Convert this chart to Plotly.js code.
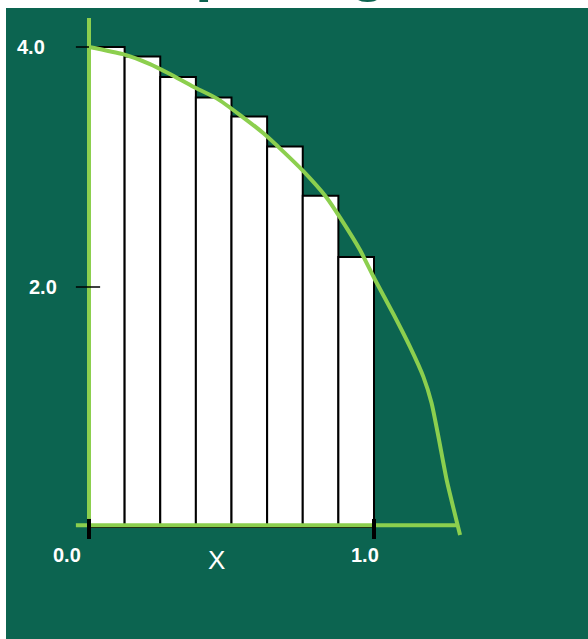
<!DOCTYPE html>
<html>
<head>
<meta charset="utf-8">
<script src="https://cdn.plot.ly/plotly-3.0.1.min.js"></script>
<style>
html,body{margin:0;padding:0;background:#ffffff;}
#chart{width:588px;height:639px;}
</style>
</head>
<body>
<div id="chart"></div>
<script>
// ---- data ----
const barLeft = [0.0, 0.125, 0.25, 0.375, 0.5, 0.625, 0.75, 0.875];
const barHeights = [4.0, 3.92, 3.75, 3.58, 3.42, 3.17, 2.76, 2.25];
const barWidth = 0.125;

const curveX = [0.0, 0.119, 0.214, 0.284, 0.366, 0.448, 0.530, 0.612, 0.682, 0.752, 0.834, 0.881, 0.951, 1.004, 1.068, 1.126, 1.173, 1.202, 1.226, 1.255, 1.302];
const curveY = [4.0, 3.94, 3.858, 3.775, 3.669, 3.572, 3.433, 3.281, 3.128, 2.965, 2.744, 2.578, 2.308, 2.058, 1.775, 1.503, 1.253, 1.033, 0.753, 0.392, -0.067];

const yTickVals = [4.0, 2.0];
const yTickText = ['4.0', '2.0'];
const xTickVals = [0.0, 1.0];
const xTickText = ['0.0', '1.0'];
const xTitle = 'X';
const chartTitle = 'Computing \u03c0';

// ---- style ----
const BG = '#0c6450';
const LIME = '#8ccf4e';
const W = 588, H = 639;
// pixel scale: 285 px per x unit, x=0 at 89px; 120 px per y unit, y=0 at 527px
const pxX = 285, x0px = 89, pxY = 120, y0px = 527;
const xr = [-x0px / pxX, (W - x0px) / pxX];
const yr = [(y0px - H) / pxY, y0px / pxY];

const barX = barLeft.map(v => v + barWidth / 2);

const traces = [
  {
    type: 'bar', x: barX, y: barHeights, width: barWidth,
    marker: {color: '#ffffff', line: {color: '#000000', width: 2}},
    hoverinfo: 'skip', showlegend: false
  },
  {
    type: 'scatter', mode: 'lines', x: curveX, y: curveY,
    line: {color: LIME, width: 4, shape: 'spline', smoothing: 0.5},
    hoverinfo: 'skip', showlegend: false
  }
];

const shapes = [
  {type: 'rect', xref: 'paper', yref: 'paper', x0: 6 / W, x1: 1, y0: 0, y1: 1 - 8 / H,
   fillcolor: BG, line: {width: 0}, layer: 'below'},
  // green axis lines
  {type: 'line', xref: 'x', yref: 'y', x0: 0, x1: 0, y0: 0.015, y1: (y0px - 18) / pxY,
   line: {color: LIME, width: 4}, layer: 'above'},
  {type: 'line', xref: 'x', yref: 'y', x0: -0.046, x1: 1.295, y0: 0.015, y1: 0.015,
   line: {color: LIME, width: 4}, layer: 'above'}
];
// y ticks
yTickVals.forEach((v, i) => {
  shapes.push({type: 'line', xref: 'x', yref: 'y', x0: -0.046, x1: i === 0 ? 0 : 0.039, y0: v, y1: v,
    line: {color: '#000000', width: 1.5}, layer: 'above'});
});
// x ticks
xTickVals.forEach(v => {
  shapes.push({type: 'line', xref: 'x', yref: 'y', x0: v, x1: v, y0: 0.067, y1: -0.1,
    line: {color: '#000000', width: 4}, layer: 'above'});
});

const labFont = {family: 'Liberation Sans, Arial, sans-serif', size: 20, color: '#ffffff', weight: 'bold'};
const yLabOffsets = [-0.205, -0.163];
const annotations = [];
yTickVals.forEach((v, i) => {
  annotations.push({x: yLabOffsets[i], y: v, xref: 'x', yref: 'y', text: '<b>' + yTickText[i] + '</b>',
    showarrow: false, font: labFont, xanchor: 'center', yanchor: 'middle'});
});
const xLabShift = [-0.077, -0.032];
xTickVals.forEach((v, i) => {
  annotations.push({x: v + xLabShift[i], y: -0.233, xref: 'x', yref: 'y', text: '<b>' + xTickText[i] + '</b>',
    showarrow: false, font: labFont, xanchor: 'center', yanchor: 'middle'});
});
annotations.push({x: 0.449, y: -0.275, xref: 'x', yref: 'y', text: xTitle, showarrow: false,
  font: {family: 'Liberation Sans, Arial, sans-serif', size: 26, color: '#ffffff'},
  xanchor: 'center', yanchor: 'middle'});
annotations.push({x: 53 / W, y: 1 - 4 / H, xref: 'paper', yref: 'paper', text: '<b>' + chartTitle + '</b>',
  showarrow: false, font: {family: 'Liberation Sans, Arial, sans-serif', size: 63, color: BG},
  xanchor: 'left', yanchor: 'bottom'});

const layout = {
  width: W, height: H,
  margin: {l: 0, r: 0, t: 0, b: 0, pad: 0},
  paper_bgcolor: '#ffffff', plot_bgcolor: 'rgba(0,0,0,0)',
  xaxis: {range: xr, visible: false, fixedrange: true, domain: [0, 1]},
  yaxis: {range: yr, visible: false, fixedrange: true, domain: [0, 1]},
  bargap: 0, showlegend: false,
  shapes: shapes, annotations: annotations
};

Plotly.newPlot('chart', traces, layout, {displayModeBar: false, staticPlot: true});
</script>
</body>
</html>
